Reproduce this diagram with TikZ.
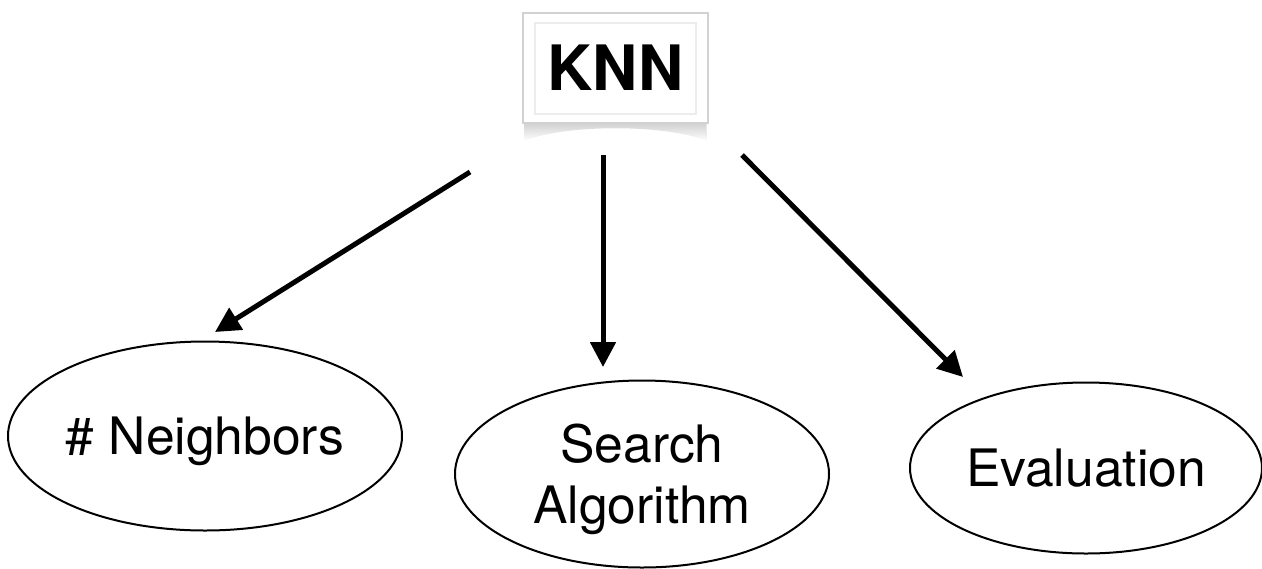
\documentclass[tikz,border=0pt]{standalone}
\usepackage{fontspec}
\setmainfont{TeX Gyre Heros}
\usetikzlibrary{shapes.geometric,arrows.meta}
\begin{document}
\begin{tikzpicture}[x=0.5pt,y=-0.5pt,
  oval/.style={draw,line width=1pt,ellipse,inner sep=0pt,
    font=\fontsize{25.8pt}{30.5pt}\selectfont,align=center},
  conn/.style={line width=2.5pt,-{Triangle[length=12.5pt,width=12.5pt]}},
  card/.style={draw=gray!35,fill=white,line width=0.8pt,inner sep=0pt,
    minimum width=92.5pt,minimum height=55pt,
    font=\fontsize{31.3pt}{36pt}\selectfont\bfseries,
    text height=22.5pt,text depth=0pt}]
\useasboundingbox (0,0) rectangle (1262,568);
% curled shadow under the card
\shade[top color=gray!75,bottom color=white]
  (525,104) -- (706,104) -- (707,141)
  .. controls (665,124) and (566,124) .. (524,141) -- cycle;
\node[card] (knn) at (615.5,68) {KNN};
\draw[gray!15,line width=0.8pt] ([shift={(6.5pt,-5.5pt)}]knn.north west)
  rectangle ([shift={(-6.5pt,5pt)}]knn.south east);
% ellipses
\node[oval,minimum width=197pt,minimum height=94.5pt,
  text height=18.5pt,text depth=0pt] (nb) at (205,436) {\# Neighbors};
\node[oval,minimum width=187pt,minimum height=93.5pt,
  text height=49pt,text depth=0pt] (sa) at (642,474) {Search\\Algorithm};
\node[oval,minimum width=176pt,minimum height=85.5pt,
  text height=18.5pt,text depth=0pt] (ev) at (1086,468) {Evaluation};
% connectors
\coordinate (a1s) at (470,172); \coordinate (a1e) at (215,332);
\coordinate (a2s) at (603,155); \coordinate (a2e) at (603,367);
\coordinate (a3s) at (742,155); \coordinate (a3e) at (963,377);
\draw[conn] (a1s) -- (a1e);
\draw[conn] (a2s) -- (a2e);
\draw[conn] (a3s) -- (a3e);
\end{tikzpicture}
\end{document}
